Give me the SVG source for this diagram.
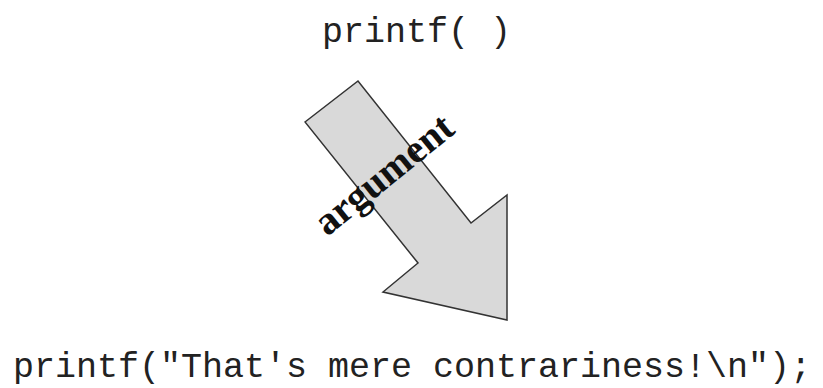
<svg xmlns="http://www.w3.org/2000/svg" width="823" height="388" viewBox="0 0 823 388">
<style>
.code{font-family:"Liberation Mono","Courier New",monospace;font-size:35px;fill:#222}
.lbl{font-family:"Liberation Serif","Times New Roman",serif;font-weight:bold;font-size:40px;fill:#111}
.arrow{fill:#d9d9d9;stroke:#333;stroke-width:1.5;stroke-linejoin:miter}
</style>
<rect width="823" height="388" fill="#fff"/>
<g id="callee">
<text class="code" x="322" y="42">printf( )</text>
</g>
<g id="connectors">
<g id="argument-arrow">
<polygon class="arrow" points="305,122 358,81 471,223 507,195 507,320 383,292 418,263"/>
<text class="lbl" x="385" y="176" text-anchor="middle" transform="rotate(-39 385 176)" dy="11">argument</text>
</g>
</g>
<g id="caller">
<text class="code" x="13" y="377">printf("That's mere contrariness!\n");</text>
</g>
</svg>
